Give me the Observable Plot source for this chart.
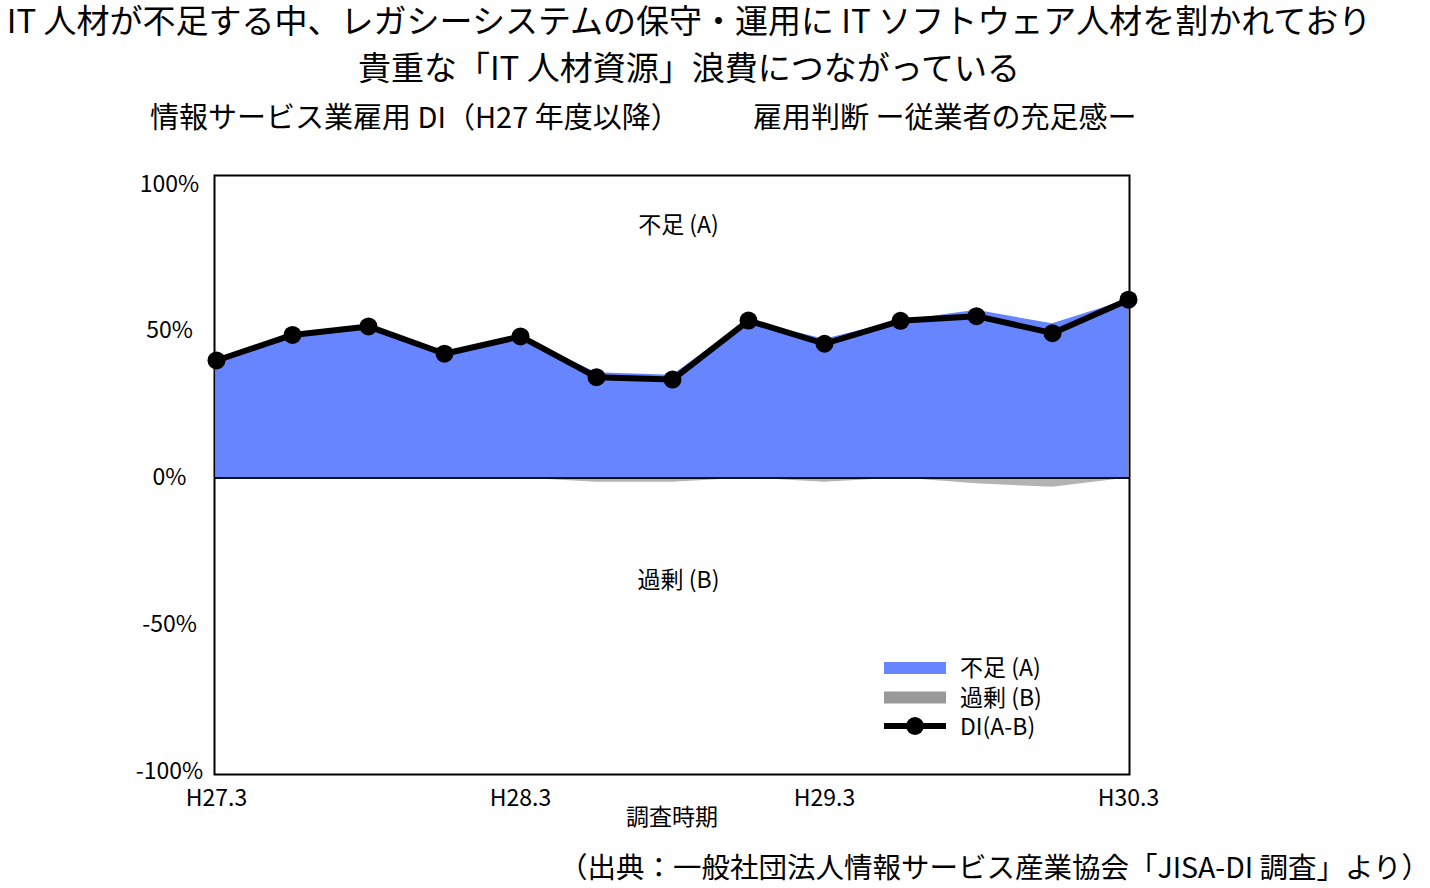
<!DOCTYPE html>
<html><head><meta charset="utf-8">
<script src="https://cdn.jsdelivr.net/npm/d3@7"></script>
<script src="https://cdn.jsdelivr.net/npm/@observablehq/plot@0.6"></script>
<style>
html,body{margin:0;padding:0;background:#fff;}
body{width:1430px;height:888px;position:relative;overflow:hidden;font-family:"Noto Sans CJK JP","Noto Sans",sans-serif;color:#000;}
.t{position:absolute;white-space:nowrap;line-height:1.2;}
.c{left:689px;transform:translateX(-50%);}
#chart{position:absolute;left:0;top:140px;}
</style></head>
<body>
<div class="t c" id="title1" style="top:0px;font-size:33px;"></div>
<div class="t c" id="title2" style="top:47px;font-size:33px;"></div>
<div class="t" id="sub1" style="left:150px;top:98px;font-size:29px;"></div>
<div class="t" id="sub2" style="left:753px;top:98px;font-size:29px;"></div>
<div id="chart"></div>
<div class="t" id="caption" style="right:0px;top:849px;font-size:28.5px;"></div>
<script>
const titleLines = ["IT 人材が不足する中、レガシーシステムの保守・運用に IT ソフトウェア人材を割かれており", "貴重な「IT 人材資源」浪費につながっている"];
const subtitles = ["情報サービス業雇用 DI（H27 年度以降）", "雇用判断 ー従業者の充足感ー"];
const caption = "（出典：一般社団法人情報サービス産業協会「JISA-DI 調査」より）";
const xLabel = "調査時期";

const periods = ["H27.3","H27.6","H27.9","H27.12","H28.3","H28.6","H28.9","H28.12","H29.3","H29.6","H29.9","H29.12","H30.3"];
const tickPeriods = ["H27.3","H28.3","H29.3","H30.3"];
const shortageA = [40.0, 48.7, 51.6, 42.3, 48.2, 35.8, 35.0, 53.6, 47.2, 53.5, 57.1, 52.5, 60.7];
const surplusB  = [0, 0, 0, 0, 0, 1.5, 1.5, 0, 1.5, 0, 2.0, 3.2, 0];
const diAB      = [40.0, 48.7, 51.6, 42.3, 48.2, 34.3, 33.5, 53.6, 45.7, 53.5, 55.1, 49.3, 60.7];
const yTicks = [-100, -50, 0, 50, 100];
const seriesNames = ["不足 (A)", "過剰 (B)", "DI(A-B)"];
const areaLabels = ["不足 (A)", "過剰 (B)"];
const areaLabelY = [86, -35];
const areaLabelPeriod = ["H28.9", "H28.9"];

document.getElementById("title1").textContent = titleLines[0];
document.getElementById("title2").textContent = titleLines[1];
document.getElementById("sub1").textContent = subtitles[0];
document.getElementById("sub2").textContent = subtitles[1];
document.getElementById("caption").textContent = caption;

const data = periods.map((p, i) => ({period: p, A: shortageA[i], B: -surplusB[i], DI: diAB[i]}));
const ann = areaLabels.map((t, i) => ({text: t, period: areaLabelPeriod[i], y: areaLabelY[i]}));

const BLUE = "#6685ff", GREY = "#b3b3b3";
const font = '"Noto Sans CJK JP","Noto Sans",sans-serif';

const plot = Plot.plot({
  width: 1430, height: 700,
  marginLeft: 214, marginRight: 301, marginTop: 35, marginBottom: 66,
  style: {fontFamily: font, fontSize: "23px", color: "#000", background: "transparent"},
  x: {type: "point", domain: periods, padding: 0},
  y: {domain: [-101, 103]},
  marks: [
    Plot.areaY(data, {x: "period", y: "A", fill: BLUE}),
    Plot.areaY(data, {x: "period", y: "B", fill: GREY}),
    Plot.ruleY([0], {stroke: "#111", strokeWidth: 2}),
    Plot.frame({stroke: "#000", strokeWidth: 2}),
    Plot.axisY(yTicks, {tickSize: 0, tickPadding: 45, textAnchor: "middle", tickFormat: d => d + "%", label: null, fontSize: 23}),
    Plot.axisX(tickPeriods, {tickSize: 0, tickPadding: 15, label: null, fontSize: 23}),
    Plot.line(data, {x: "period", y: "DI", stroke: "#000", strokeWidth: 6, strokeLinejoin: "round"}),
    Plot.dot(data, {x: "period", y: "DI", r: 9, fill: "#000", stroke: "none"}),
    Plot.text(ann, {x: "period", y: "y", text: "text", fontSize: 23, dx: 6}),
    Plot.text([xLabel], {frameAnchor: "bottom", dy: 50, fontSize: 23})
  ]
});
document.getElementById("chart").appendChild(plot);

// legend (inside the plot frame)
const svg = d3.select(plot);
const lg = svg.append("g").attr("transform", "translate(884,528)")
  .style("font-family", font).style("font-size", "23px").attr("text-anchor", "start");
const swatches = [{c: BLUE, k: "area"}, {c: "#999999", k: "area"}, {c: "#000", k: "line"}];
swatches.forEach((s, i) => {
  const y = i * 29.5;
  if (s.k === "area") {
    lg.append("rect").attr("x", 0).attr("y", y - 6).attr("width", 62).attr("height", 12).attr("fill", s.c);
  } else {
    lg.append("line").attr("x1", 0).attr("x2", 62).attr("y1", y - 1).attr("y2", y - 1).attr("stroke", "#000").attr("stroke-width", 6);
    lg.append("circle").attr("cx", 31).attr("cy", y - 1).attr("r", 9).attr("fill", "#000");
  }
  lg.append("text").attr("x", 76).attr("y", y).attr("dy", "0.35em").attr("text-anchor", "start").attr("fill", "#000").text(seriesNames[i]);
});
</script>
</body></html>
